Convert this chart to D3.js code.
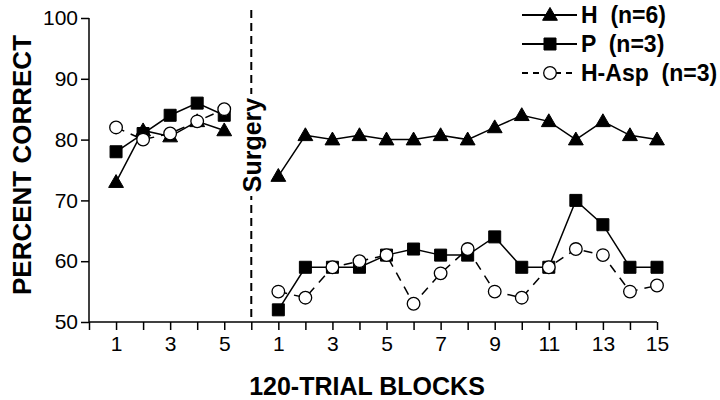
<!DOCTYPE html>
<html>
<head>
<meta charset="utf-8">
<script src="https://cdn.jsdelivr.net/npm/d3@7"></script>
<style>
  body { margin: 0; background: #fff; }
  svg { font-family: "Liberation Sans", Arial, sans-serif; }
  text { white-space: pre; }
</style>
</head>
<body>
<svg id="chart" width="720" height="400"></svg>
<script>
// blocks before and after surgery
const preBlocks = [1, 2, 3, 4, 5];
const postBlocks = [1, 2, 3, 4, 5, 6, 7, 8, 9, 10, 11, 12, 13, 14, 15];

// percent correct
const hPre = [73, 81.5, 80.5, 83, 81.5];
const hPost = [74, 80.7, 80, 80.7, 80, 80, 80.7, 80, 82, 84, 83, 80, 83, 80.7, 80];
const pPre = [78, 81, 84, 86, 84];
const pPost = [52, 59, 59, 59, 61, 62, 61, 61, 64, 59, 59, 70, 66, 59, 59];
const aspPre = [82, 80, 81, 83, 85];
const aspPost = [55, 54, 59, 60, 61, 53, 58, 62, 55, 54, 59, 62, 61, 55, 56];

const yTicks = [50, 60, 70, 80, 90, 100];
const xTickLabels = ['1', '3', '5', '1', '3', '5', '7', '9', '11', '13', '15'];

const series = [
  { name: 'H  (n=6)', shape: 'triangle', dashed: false, pre: hPre, post: hPost },
  { name: 'P  (n=3)', shape: 'square', dashed: false, pre: pPre, post: pPost },
  { name: 'H-Asp  (n=3)', shape: 'circle', dashed: true, pre: aspPre, post: aspPost }
];

const svg = d3.select('#chart');

// x is one running index: pre blocks at 1-5, surgery at 6, post blocks at 7-21
const surgeryPos = preBlocks.length + 1;
const preX = b => b;
const postX = b => b + surgeryPos;
const lastPos = postX(postBlocks[postBlocks.length - 1]);

const x = d3.scaleLinear().domain([0, lastPos]).range([89, 657]);
const y = d3.scaleLinear().domain([50, 100]).range([322, 18]);

// y axis
const yAxisG = svg.append('g')
    .attr('transform', `translate(${x(0)},0)`)
    .call(d3.axisLeft(y).tickValues(yTicks).tickSize(8).tickPadding(3));
yAxisG.select('.domain').attr('stroke', '#000').attr('stroke-width', 1.5).attr('d', `M0,${y(100)}V${y(50)}`);
yAxisG.selectAll('.tick line').attr('stroke-width', 1.5);
yAxisG.selectAll('.tick text')
    .style('font-size', '21px')
    .attr('fill', '#000');

// x axis, tick every position, labels on odd blocks
const allPos = d3.range(0, lastPos + 1);
const labelPos = preBlocks.filter(b => b % 2 === 1).map(preX)
  .concat(postBlocks.filter(b => b % 2 === 1).map(postX));
const labelOf = new Map(labelPos.map((p, i) => [p, xTickLabels[i]]));

const xAxisG = svg.append('g')
    .attr('transform', `translate(0,${y(50)})`)
    .call(d3.axisBottom(x).tickValues(allPos).tickSize(8).tickPadding(6)
      .tickFormat(p => labelOf.get(p) || ''));
xAxisG.select('.domain').attr('stroke-width', 1.5).attr('d', `M${x(0)},0H${x(lastPos)}`);
xAxisG.selectAll('.tick line').attr('stroke-width', 1.5);
xAxisG.selectAll('.tick text')
    .style('font-size', '21px')
    .attr('fill', '#000');

// axis titles
svg.append('text')
    .attr('transform', `translate(31,165) rotate(-90)`)
    .attr('text-anchor', 'middle')
    .style('font-size', '26px')
    .style('font-weight', 'bold')
    .text('PERCENT CORRECT');

svg.append('text')
    .attr('x', 367)
    .attr('y', 395)
    .attr('text-anchor', 'middle')
    .style('font-size', '25px')
    .style('font-weight', 'bold')
    .text('120-TRIAL BLOCKS');

// surgery line
svg.append('line')
    .attr('x1', x(surgeryPos)).attr('x2', x(surgeryPos))
    .attr('y1', 10).attr('y2', y(50))
    .attr('stroke', '#000')
    .attr('stroke-width', 2)
    .attr('stroke-dasharray', '8,5');
svg.append('rect')
    .attr('x', x(surgeryPos) - 12).attr('y', 94)
    .attr('width', 24).attr('height', 102)
    .attr('fill', '#fff');
svg.append('text')
    .attr('transform', `translate(${x(surgeryPos) + 10},145) rotate(-90)`)
    .attr('text-anchor', 'middle')
    .style('font-size', '25px')
    .style('font-weight', 'bold')
    .text('Surgery');

// markers
const symbolFor = {
  triangle: d3.symbol().type(d3.symbolTriangle).size(95),
  square: d3.symbol().type(d3.symbolSquare).size(144),
  circle: d3.symbol().type(d3.symbolCircle).size(125)
};
function drawMarker(g, shape, cx, cy) {
  g.append('path')
      .attr('d', symbolFor[shape]())
      .attr('transform', `translate(${cx},${cy + (shape === 'triangle' ? 1 : 0)})`)
      .attr('fill', shape === 'circle' ? '#fff' : '#000')
      .attr('stroke', '#000')
      .attr('stroke-width', shape === 'circle' ? 1.3 : 1);
}

const line = d3.line().x(d => d[0]).y(d => d[1]);

series.forEach(s => {
  const g = svg.append('g');
  const segs = [
    preBlocks.map((b, i) => [x(preX(b)), y(s.pre[i])]),
    postBlocks.map((b, i) => [x(postX(b)), y(s.post[i])])
  ];
  segs.forEach(pts => {
    g.append('path')
        .attr('d', line(pts))
        .attr('fill', 'none')
        .attr('stroke', '#000')
        .attr('stroke-width', 1.5)
        .attr('stroke-dasharray', s.dashed ? '9,7' : null);
    pts.forEach(p => drawMarker(g, s.shape, p[0], p[1]));
  });
});

// legend
const legend = svg.append('g');
series.forEach((s, i) => {
  const ly = 15 + i * 29;
  legend.append('line')
      .attr('x1', 522).attr('x2', 577)
      .attr('y1', ly).attr('y2', ly)
      .attr('stroke', '#000')
      .attr('stroke-width', 2)
      .attr('stroke-dasharray', s.dashed ? '6,5' : null);
  drawMarker(legend, s.shape, 550, ly);
  legend.append('text')
      .attr('x', 581)
      .attr('y', ly + 8)
      .style('font-size', '23px')
      .style('font-weight', 'bold')
      .text(s.name);
});
</script>
</body>
</html>
